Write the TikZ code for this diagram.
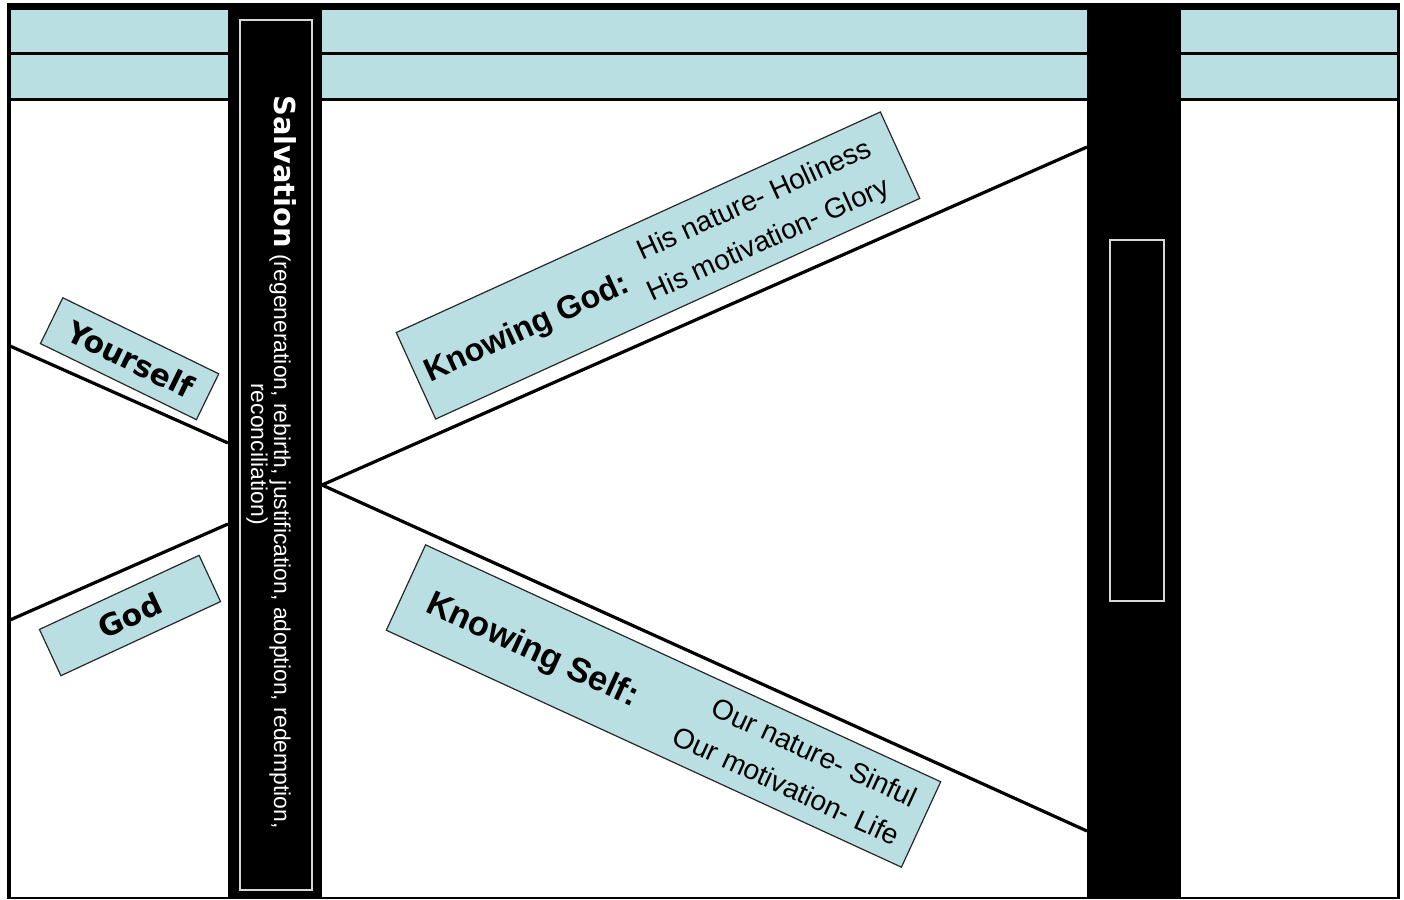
\documentclass[tikz,border=0pt]{standalone}
\usepackage{fontspec}
\setmainfont{Liberation Sans}
\newfontfamily\dejavu{DejaVu Sans}
\definecolor{bandteal}{RGB}{186,223,226}
\definecolor{edgegrey}{RGB}{40,40,40}
\definecolor{outlinegrey}{RGB}{215,215,215}
\begin{document}
\begin{tikzpicture}[x=1bp,y=-1bp,
  tbox/.style={draw=edgegrey, line width=1.2bp, fill=bandteal, inner sep=0pt},
  txt/.style={inner sep=0pt, text=black},
  bigbold/.style={font=\dejavu\bfseries\fontsize{30}{32}\selectfont},
  kbold/.style={font=\bfseries\fontsize{#1}{#1}\selectfont},
  ksub/.style={font=\fontsize{28.3}{30}\selectfont},
  connector/.style={draw=black, line width=3.2bp},
  outline/.style={draw=outlinegrey, line width=1.6bp}]
\useasboundingbox (0,0) rectangle (1404,899);
\fill[white] (0,0) rectangle (1404,899);
% frame
\fill[black] (7,3) rectangle (1400,899);
\fill[white] (10.5,10) rectangle (1397,896.5);
% header bands
\fill[bandteal] (10.5,10) rectangle (1397,98.5);
\fill[black] (10.5,52) rectangle (1397,55);
\fill[black] (10.5,98) rectangle (1397,101);
% columns
\fill[black] (228,10) rectangle (322,896.5);
\fill[black] (1087,10) rectangle (1181,896.5);
\draw[outline] (240,20) rectangle (312,890);
\draw[outline] (1110,240) rectangle (1164,601);
% connector lines
\coordinate (yA) at (10,346);
\coordinate (yB) at (228,443);
\coordinate (gA) at (10,620);
\coordinate (gB) at (228,524);
\coordinate (apex) at (322,485);
\coordinate (kgE) at (1087,147);
\coordinate (ksE) at (1087,831);
\draw[connector] (yA) -- (yB);
\draw[connector] (gA) -- (gB);
\draw[connector] (apex) -- (kgE);
\draw[connector] (apex) -- (ksE);
% salvation text
\node[rotate=-90, anchor=base, inner sep=0pt, text=white] (sal1) at (274,462)
  {{\dejavu\bfseries\fontsize{29}{30}\selectfont Salvation}\fontsize{23}{24}\selectfont\ (regeneration, rebirth, justification, adoption, redemption,};
\node[rotate=-90, anchor=base, inner sep=0pt, text=white, font=\fontsize{23}{24}\selectfont] (sal2) at (251,454)
  {reconciliation)};
% Yourself
\begin{scope}[shift={(129.6,358.7)}, rotate=-26, transform shape]
  \node[tbox, minimum width=173.5bp, minimum height=51bp] (ybox) at (0,0) {};
  \node[txt, bigbold] (ytext) at (1,0) {Yourself};
\end{scope}
% God
\begin{scope}[shift={(130,615.5)}, rotate=24.9, transform shape]
  \node[tbox, minimum width=176bp, minimum height=51bp] (gbox) at (0,0) {};
  \node[txt, bigbold] (gtext) at (0,0) {God};
\end{scope}
% Knowing God
\begin{scope}[shift={(658,265.5)}, rotate=24.5, transform shape]
  \node[tbox, minimum width=532bp, minimum height=95bp] (kgbox) at (0,0) {};
  \node[txt, kbold=32.4, anchor=base west] (kgt) at (-256,12) {Knowing God:};
  \node[txt, ksub, anchor=base east] (kg1) at (242,-11) {His nature- Holiness};
  \node[txt, ksub, anchor=base east] (kg2) at (242,31) {His motivation- Glory};
\end{scope}
% Knowing Self
\begin{scope}[shift={(663.5,706)}, rotate=-24.7, transform shape]
  \node[tbox, minimum width=567bp, minimum height=94bp] (ksbox) at (0,0) {};
  \node[txt, kbold=34.5, anchor=base west] (kst) at (-257,14) {Knowing Self:};
  \node[txt, ksub, anchor=base east] (ks1) at (268,-11) {Our nature- Sinful};
  \node[txt, ksub, anchor=base east] (ks2) at (268,31) {Our motivation- Life};
\end{scope}
\end{tikzpicture}
\end{document}
